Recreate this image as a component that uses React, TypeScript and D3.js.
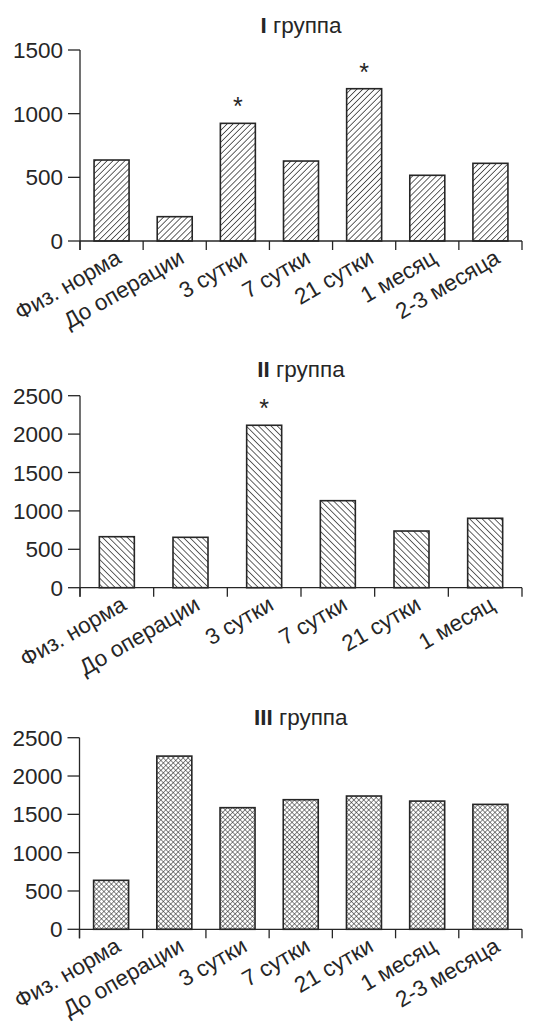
import React from 'react';
import * as d3 from 'd3';

const categoriesFull = ['Физ. норма', 'До операции', '3 сутки', '7 сутки', '21 сутки', '1 месяц', '2-3 месяца'];
const categoriesII = ['Физ. норма', 'До операции', '3 сутки', '7 сутки', '21 сутки', '1 месяц'];

const valuesI = [636, 191, 924, 628, 1196, 516, 610];
const valuesII = [664, 656, 2115, 1133, 738, 904];
const valuesIII = [639, 2260, 1587, 1691, 1739, 1673, 1630];

const ticksI = [0, 500, 1000, 1500];
const ticksII = [0, 500, 1000, 1500, 2000, 2500];
const ticksIII = [0, 500, 1000, 1500, 2000, 2500];

const starsI = ['3 сутки', '21 сутки'];
const starsII = ['3 сутки'];
const starsIII: string[] = [];

const titleNumerals = ['I', 'II', 'III'];
const titleWord = 'группа';

const FONT = "'Liberation Sans', Arial, Helvetica, sans-serif";
const INK = '#262626';
const FS = 22.5;

type PanelProps = {
  categories: string[];
  values: number[];
  ticks: number[];
  stars: string[];
  numeral: string;
  pattern: string;
  x0: number;
  x1: number;
  yTop: number;
  yBase: number;
  titleY: number;
};

function Panel(p: PanelProps) {
  const x = d3.scaleBand<string>().domain(p.categories).range([p.x0, p.x1]).padding(0);
  const maxT = p.ticks[p.ticks.length - 1];
  const y = d3.scaleLinear().domain([0, maxT]).range([p.yBase, p.yTop]);
  const bw = x.bandwidth();
  const barW = 35;
  const boundaries = p.categories.map((c) => x(c) as number).concat([p.x1]);
  const cx = (c: string) => (x(c) as number) + bw / 2;
  return (
    <g>
      <text x={(p.x0 + p.x1) / 2} y={p.titleY} textAnchor="middle" fontSize={FS} fill={INK} fontFamily={FONT}>
        <tspan fontWeight="bold">{p.numeral}</tspan>
        <tspan> {titleWord}</tspan>
      </text>
      {p.categories.map((c, i) => (
        <rect
          key={'b' + c}
          x={cx(c) - barW / 2}
          y={y(p.values[i])}
          width={barW}
          height={p.yBase - y(p.values[i])}
          fill={`url(#${p.pattern})`}
          stroke={INK}
          strokeWidth={1.6}
        />
      ))}
      {p.categories.map((c, i) =>
        p.stars.includes(c) ? (
          <text key={'s' + c} x={cx(c)} y={y(p.values[i]) - 8} textAnchor="middle" fontSize={25} fill={INK} fontFamily={FONT}>
            *
          </text>
        ) : null
      )}
      {/* y axis */}
      <line x1={p.x0} x2={p.x0} y1={y(maxT)} y2={p.yBase + 9} stroke={INK} strokeWidth={1.3} />
      {p.ticks.map((t) => (
        <g key={'t' + t}>
          <line x1={p.x0 - 12} x2={p.x0} y1={y(t)} y2={y(t)} stroke={INK} strokeWidth={1.3} />
          <text x={p.x0 - 17} y={y(t)} dy="0.36em" textAnchor="end" fontSize={FS} fill={INK} fontFamily={FONT}>
            {t}
          </text>
        </g>
      ))}
      {/* x axis */}
      <line x1={p.x0} x2={p.x1} y1={p.yBase} y2={p.yBase} stroke={INK} strokeWidth={1.3} />
      {boundaries.map((b, i) => (
        <line key={'xt' + i} x1={b} x2={b} y1={p.yBase} y2={p.yBase + 9} stroke={INK} strokeWidth={1.3} />
      ))}
      {p.categories.map((c) => (
        <text
          key={'l' + c}
          transform={`translate(${cx(c) + 11},${p.yBase + 21}) rotate(-30)`}
          textAnchor="end"
          fontSize={FS}
          fill={INK}
          fontFamily={FONT}
        >
          {c}
        </text>
      ))}
    </g>
  );
}

export default function App() {
  return (
    <svg
      width={543}
      height={1027}
      style={{ position: 'absolute', left: 0, top: 0, display: 'block', background: '#fff' }}
    >
      <defs>
        <pattern id="hatchFwd" patternUnits="userSpaceOnUse" width={4.2} height={4.2} patternTransform="rotate(45)">
          <rect width={4.2} height={4.2} fill="#fff" />
          <line x1={0} y1={0} x2={0} y2={4.2} stroke="#111" strokeWidth={1.3} />
        </pattern>
        <pattern id="hatchBack" patternUnits="userSpaceOnUse" width={4.4} height={4.4} patternTransform="rotate(-45)">
          <rect width={4.4} height={4.4} fill="#fff" />
          <line x1={0} y1={0} x2={0} y2={4.4} stroke="#111" strokeWidth={1.3} />
        </pattern>
        <pattern id="hatchCross" patternUnits="userSpaceOnUse" width={3.5} height={3.5} patternTransform="rotate(45)">
          <rect width={3.5} height={3.5} fill="#fff" />
          <line x1={0} y1={0} x2={0} y2={3.5} stroke="#1a1a1a" strokeWidth={1} />
          <line x1={0} y1={0} x2={3.5} y2={0} stroke="#1a1a1a" strokeWidth={1} />
        </pattern>
      </defs>
      <rect width={543} height={1027} fill="#fff" />
      <Panel
        categories={categoriesFull}
        values={valuesI}
        ticks={ticksI}
        stars={starsI}
        numeral={titleNumerals[0]}
        pattern="hatchFwd"
        x0={80}
        x1={522}
        yTop={50}
        yBase={241}
        titleY={33}
      />
      <Panel
        categories={categoriesII}
        values={valuesII}
        ticks={ticksII}
        stars={starsII}
        numeral={titleNumerals[1]}
        pattern="hatchBack"
        x0={80}
        x1={522}
        yTop={395.7}
        yBase={587.7}
        titleY={377}
      />
      <Panel
        categories={categoriesFull}
        values={valuesIII}
        ticks={ticksIII}
        stars={starsIII}
        numeral={titleNumerals[2]}
        pattern="hatchCross"
        x0={79.5}
        x1={522}
        yTop={737.7}
        yBase={929.3}
        titleY={725}
      />
    </svg>
  );
}
